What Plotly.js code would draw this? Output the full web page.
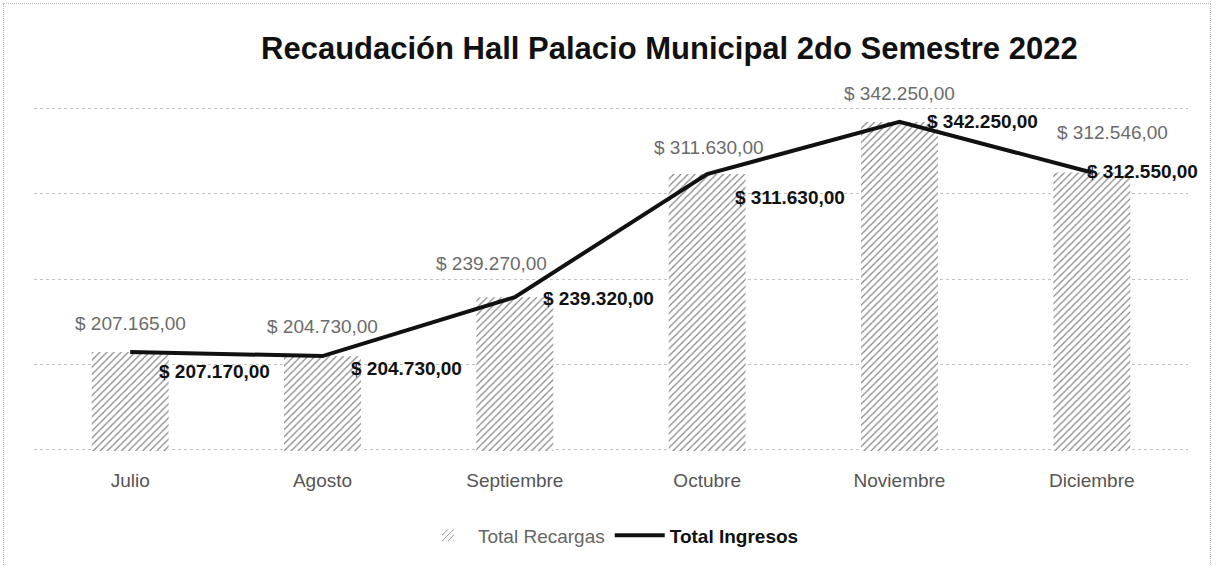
<!DOCTYPE html>
<html><head><meta charset="utf-8">
<script src="https://cdn.plot.ly/plotly-3.0.1.min.js"></script>
<style>
html,body{margin:0;padding:0;background:#fff;}
#wrap{position:absolute;left:3px;top:3px;width:1206px;height:570px;border:1px dotted #b8b8b8;}
#chart{position:absolute;left:-4px;top:-4px;width:1217px;height:566px;}
</style></head>
<body><div id="wrap"><div id="chart"></div></div>
<script>
const months = ['Julio','Agosto','Septiembre','Octubre','Noviembre','Diciembre'];
const totalRecargas = [207165, 204730, 239270, 311630, 342250, 312546];
const totalIngresos = [207170, 204730, 239320, 311630, 342250, 312550];
const barLabelShiftX = [0, 0, -23, 2, 0, 21];
const barLabelShiftY = [28, 30, 34, 27, 28, 40];
const lineLabelShiftX = [27, 26, 26, 26, 25, -7];
const lineLabelShiftY = [-20, -12, -1, -23, 0, 1];

function fmt(v){
  const s = Math.round(v).toString().replace(/\B(?=(\d{3})+(?!\d))/g, '.');
  return '$ ' + s + ',00';
}
const FONT = 'Liberation Sans, Arial, sans-serif';

const annotations = [];
months.forEach((m,i)=>{
  annotations.push({x:m, y:totalRecargas[i], xref:'x', yref:'y', text:fmt(totalRecargas[i]),
    showarrow:false, xanchor:'center', yanchor:'middle', xshift:barLabelShiftX[i], yshift:barLabelShiftY[i],
    font:{family:FONT, size:19, color:'#6b6b6b'}});
  annotations.push({x:m, y:totalIngresos[i], xref:'x', yref:'y', text:'<b>'+fmt(totalIngresos[i])+'</b>',
    showarrow:false, xanchor:'left', yanchor:'middle', xshift:lineLabelShiftX[i], yshift:lineLabelShiftY[i],
    font:{family:FONT, size:19, color:'#111'}});
});

const data = [
  {type:'bar', name:'Total Recargas', x:months, y:totalRecargas, width:0.4,
   marker:{color:'white', line:{width:0}, pattern:{shape:'/', fgcolor:'#808080', bgcolor:'white', size:5, solidity:0.22}},
   hoverinfo:'skip'},
  {type:'scatter', mode:'lines', name:'<b><span style="color:#111">Total Ingresos</span></b>', x:months, y:totalIngresos,
   line:{color:'#111', width:4}, hoverinfo:'skip'}
];

const layout = {
  width:1217, height:566,
  margin:{l:34, r:29, t:107, b:115, autoexpand:false},
  paper_bgcolor:'rgba(0,0,0,0)', plot_bgcolor:'rgba(0,0,0,0)',
  title:{text:'<b>Recaudación Hall Palacio Municipal 2do Semestre 2022</b>', x:0.55, xanchor:'center', y:0.915, yanchor:'middle',
    font:{family:FONT, size:31, color:'#111'}},
  showlegend:true,
  legend:{orientation:'h', x:0.5, xanchor:'center', y:-0.245, yanchor:'middle', font:{family:FONT, size:19, color:'#666'}, itemwidth:50, tracegroupgap:0},
  xaxis:{type:'category', range:[-0.5, 5.5], autorange:false, showgrid:false, showline:false, ticks:'', tickfont:{family:FONT, size:19, color:'#555'}, ticklabelstandoff:16},
  yaxis:{range:[149000, 351000], autorange:false, dtick:50000, tick0:0, showticklabels:false, showgrid:true, gridcolor:'#c4c4c4', griddash:'dot', gridwidth:1, zeroline:false},
  annotations:annotations,
  bargap:0.6
};
Plotly.newPlot('chart', data, layout, {displayModeBar:false, staticPlot:true});
</script></body></html>
